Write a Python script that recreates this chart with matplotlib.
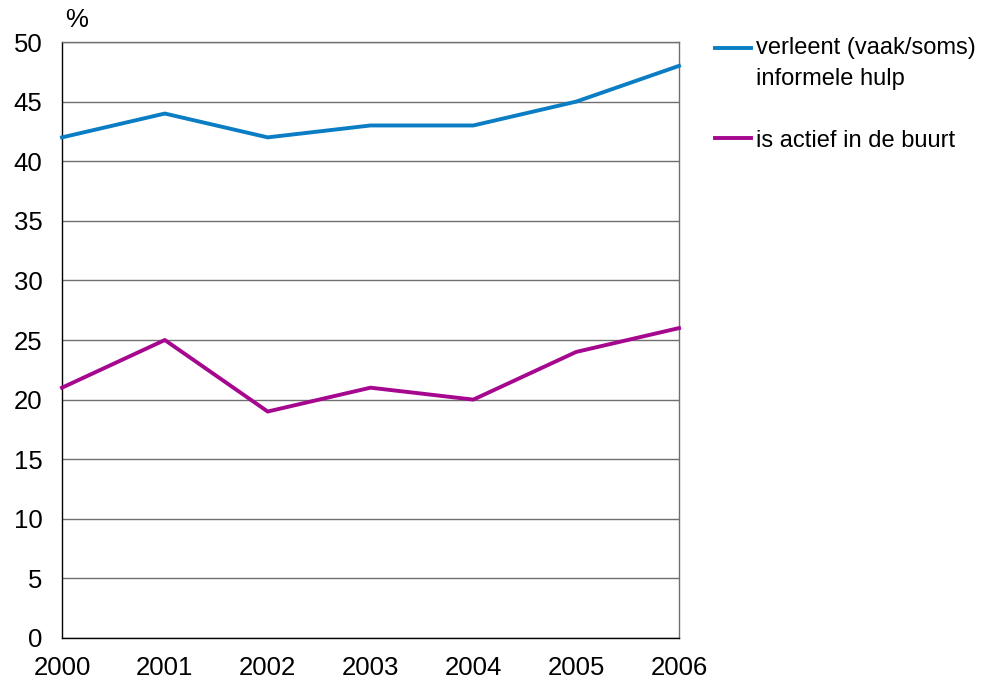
import numpy as np
import matplotlib.pyplot as plt
from matplotlib.lines import Line2D

plt.rcParams['font.family'] = ['Liberation Sans', 'DejaVu Sans']

jaren = [2000, 2001, 2002, 2003, 2004, 2005, 2006]
hulp = [42, 44, 42, 43, 43, 45, 48]
buurt = [21, 25, 19, 21, 20, 24, 26]

label_hulp = 'verleent (vaak/soms)\ninformele hulp'
label_buurt = 'is actief in de buurt'

blauw = '#0a7dc4'
paars = '#a5078f'
fs = 18.5

fig = plt.figure(figsize=(10, 6.79), dpi=100)
ax = fig.add_axes([0.062, 0.0604, 0.617, 0.8777])

ax.plot(jaren, hulp, color=blauw, lw=2.8, clip_on=False, zorder=3)
ax.plot(jaren, buurt, color=paars, lw=2.8, clip_on=False, zorder=3)

ax.set_xlim(2000, 2006)
ax.set_ylim(0, 50)
ax.set_yticks(np.arange(0, 51, 5))
ax.set_xticks(jaren)
ax.yaxis.grid(True, color='#707070', lw=1.0)
ax.set_axisbelow(True)
ax.tick_params(length=0, labelsize=fs)
ax.tick_params(axis='y', pad=14)
ax.tick_params(axis='x', pad=13)

ax.spines['left'].set_color('black')
ax.spines['bottom'].set_color('black')
ax.spines['right'].set_color('#707070')
ax.spines['top'].set_color('#707070')
for s in ax.spines.values():
    s.set_linewidth(1.0)

fig.text(0.077, 0.97, '%', fontsize=fs, ha='center', va='center')

# legenda
fig.add_artist(Line2D([0.715, 0.751], [0.929, 0.929], color=blauw, lw=2.8))
fig.text(0.756, 0.945, label_hulp, fontsize=17, ha='left', va='top', linespacing=1.5)
fig.add_artist(Line2D([0.715, 0.751], [0.797, 0.797], color=paars, lw=2.8))
fig.text(0.756, 0.792, label_buurt, fontsize=17, ha='left', va='center')

fig.savefig('out.png', dpi=100)
